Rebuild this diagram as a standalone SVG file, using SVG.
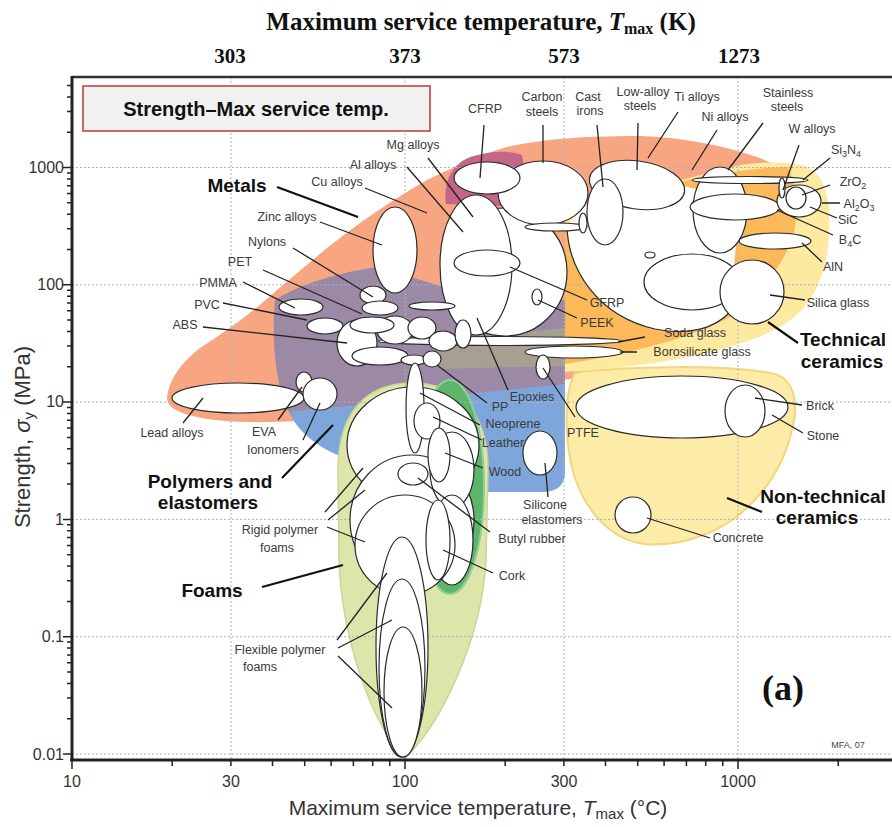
<svg xmlns="http://www.w3.org/2000/svg" width="892" height="827" viewBox="0 0 892 827">
<style>
.e{fill:#fff;stroke:#2a2a2a;stroke-width:1.2}
.l{stroke:#222;stroke-width:1.3;fill:none}
.L{stroke:#111;stroke-width:2.2;fill:none}
.s{font-family:"Liberation Sans",Arial,sans-serif;font-size:12.5px;fill:#3a3a3a;text-anchor:middle}
.b{font-family:"Liberation Sans",Arial,sans-serif;font-size:19px;font-weight:bold;fill:#111;text-anchor:middle}
.g{stroke:#a9b3be;stroke-width:1;stroke-dasharray:2 2;fill:none}
.ax{font-family:"Liberation Sans",Arial,sans-serif;font-size:16px;fill:#333}
.tk{font-family:"Liberation Serif","Times New Roman",serif;font-weight:bold;fill:#111;text-anchor:middle}
</style>
<rect width="892" height="827" fill="#fff"/>

<g id="regions">
<path id="metals-env" fill="#F8A682" d="M167,398 C170,375 185,360 200,348 C222,334 252,313 277,290 L327,248 C360,222 392,200 427,180 C458,165 482,154 507,147 C540,140 575,136 640,136 C680,137 722,145 757,157 C776,164 790,172 792,182 L700,262 L578,378 L420,400 L300,421 C230,425 167,419 167,398 Z"/>
<path id="polymers-env" fill="#9B89A5" d="M289,412 C276,388 271,340 275,300 C300,284 340,272 378,267 L470,295 L565,300 L565,386 Z"/>
<path id="glass-overlap" fill="#A5A091" d="M432,342 L565,328 L565,366 L440,369 C434,362 432,352 432,342 Z"/>
<path id="elastomers-env" fill="#7EA6DA" d="M289,412 L565,384 L565,472 C565,486 556,492 542,492 L470,492 L462,470 L345,458 C318,448 298,432 289,412 Z"/>
<path id="composites-env" fill="#C4668A" d="M446,204 C443,185 450,165 470,157 C490,151 510,150 522,155 L526,178 L500,206 Z"/>
<path id="techceram-outer" fill="#FDE9A0" d="M565,372 C660,366 745,350 788,322 C815,303 827,272 829,235 C831,200 826,175 805,166 C790,161 760,162 740,165 L565,210 Z"/>
<path id="techceram-inner" fill="#FBB95A" d="M565,226 C630,190 720,168 788,167 C797,186 798,212 794,232 C788,256 770,281 748,305 C715,332 640,352 565,364 Z"/>
<path id="nontech-env" fill="#FDEBA8" stroke="#F3D57C" stroke-width="2" d="M575,373 C620,366 730,364 775,374 C795,380 798,405 793,425 C785,465 765,495 735,518 C705,540 670,546 645,544 C610,540 585,510 574,475 C565,445 563,395 575,373 Z"/>
<path id="foams-env" fill="#DDE6AA" stroke="#C9D693" stroke-width="1.5" d="M338,470 C338,410 368,384 410,383 C458,383 488,410 488,470 L486,560 C482,640 440,725 405,758 C372,725 342,640 339,560 Z"/>
<ellipse id="natural-env" cx="450" cy="487" rx="34" ry="107" fill="#5DB46B" stroke="#8FCF95" stroke-width="2"/>
</g>

<g id="grid" class="g">
<path d="M231,77V760 M405,77V760 M564,77V760 M738,77V760"/>
<path d="M72,167.5H892 M72,284.8H892 M72,402.1H892 M72,519.4H892 M72,636.7H892 M72,754H892"/>
</g>

<g id="metal-nodes">
<ellipse id="lead" class="e" cx="238" cy="398" rx="66" ry="15"/>
<ellipse id="zinc" class="e" cx="395" cy="250" rx="22" ry="43"/>
<path id="ti-blob" fill="#fff" d="M567,226 C568,270 598,316 655,329 C690,336 715,328 730,312 L740,200 L640,175 L590,200 Z"/>
<path class="e" d="M567,226 C568,270 598,316 655,329 C690,336 715,328 730,312" style="fill:none"/>
<ellipse id="cu-big" class="e" cx="505" cy="272" rx="62" ry="64"/>
<ellipse id="carbon-steels" class="e" cx="543" cy="193" rx="45" ry="32"/>
<ellipse id="mg-al" class="e" cx="476" cy="265" rx="36" ry="70"/>
<ellipse id="cfrp" class="e" cx="487" cy="178" rx="33" ry="16"/>
<ellipse id="gfrp" class="e" cx="487" cy="263" rx="33" ry="13"/>
<ellipse id="peek" class="e" cx="537" cy="297" rx="5" ry="8"/>
<ellipse class="e" cx="556" cy="227" rx="31" ry="4"/>
<ellipse id="low-alloy" class="e" cx="637" cy="185" rx="48" ry="24" transform="rotate(8 637 185)"/>
<ellipse id="cast-irons" class="e" cx="605" cy="212" rx="18" ry="33"/>
<ellipse class="e" cx="583" cy="223" rx="4" ry="10"/>
<ellipse class="e" cx="650" cy="255" rx="5" ry="3"/>
<ellipse class="e" cx="692" cy="282" rx="48" ry="28"/>
<ellipse id="ni" class="e" cx="720" cy="210" rx="27" ry="43"/>
<ellipse id="sic-b4c" class="e" cx="735" cy="207" rx="45" ry="13"/>
<ellipse id="stainless" class="e" cx="750" cy="180" rx="58" ry="3.5"/>
<ellipse id="al2o3" class="e" cx="799" cy="201" rx="22" ry="16"/>
<ellipse id="zro2" class="e" cx="796" cy="198" rx="10" ry="11"/>
<ellipse id="w-alloys" class="e" cx="782" cy="188" rx="3" ry="10"/>
<ellipse id="aln" class="e" cx="775" cy="241" rx="36" ry="8"/>
<circle id="silica" class="e" cx="752" cy="292" r="32"/>
</g>

<g id="polymer-nodes">
<ellipse id="soda" class="e" cx="500" cy="341" rx="122" ry="4.5"/>
<ellipse id="pmma" class="e" cx="301" cy="307" rx="22" ry="8"/>
<ellipse id="pvc" class="e" cx="325" cy="326" rx="18" ry="8"/>
<ellipse class="e" cx="357" cy="343" rx="20" ry="23"/>
<ellipse class="e" cx="395" cy="330" rx="18" ry="14"/>
<ellipse class="e" cx="422" cy="328" rx="14" ry="11"/>
<ellipse class="e" cx="443" cy="341" rx="14" ry="10"/>
<ellipse class="e" cx="372" cy="325" rx="22" ry="8"/>
<ellipse id="nylon" class="e" cx="373" cy="295" rx="13" ry="9"/>
<ellipse id="pet" class="e" cx="380" cy="308" rx="18" ry="7"/>
<ellipse class="e" cx="432" cy="306" rx="23" ry="4"/>
<ellipse id="epoxy" class="e" cx="463" cy="334" rx="8" ry="14"/>
<ellipse class="e" cx="380" cy="356" rx="28" ry="9"/>
<ellipse class="e" cx="414" cy="360" rx="13" ry="5"/>
<ellipse id="pp" class="e" cx="432" cy="359" rx="9" ry="8"/>
<ellipse id="boro" class="e" cx="574" cy="352" rx="49" ry="6"/>
<ellipse id="ptfe" class="e" cx="543" cy="367" rx="7" ry="12"/>
<ellipse id="eva" class="e" cx="304" cy="382" rx="8" ry="10"/>
<ellipse id="ionomer" class="e" cx="320" cy="394" rx="17" ry="16"/>
<ellipse id="silicone" class="e" cx="540" cy="453" rx="17" ry="22"/>
</g>

<g id="foam-nodes">
<ellipse class="e" cx="413" cy="445" rx="66" ry="58"/>
<ellipse class="e" cx="412" cy="520" rx="62" ry="65"/>
<ellipse class="e" cx="452" cy="470" rx="22" ry="38"/>
<ellipse class="e" cx="452" cy="540" rx="21" ry="45"/>
<ellipse id="rigid" class="e" cx="405" cy="545" rx="50" ry="50"/>
<ellipse class="e" cx="402" cy="647" rx="26" ry="110"/>
<ellipse class="e" cx="402" cy="668" rx="23" ry="89"/>
<ellipse id="flexible" class="e" cx="403" cy="692" rx="19" ry="65"/>
<ellipse class="e" cx="415" cy="408" rx="9" ry="45"/>
<ellipse id="neoprene" class="e" cx="427" cy="421" rx="13" ry="18"/>
<ellipse id="wood" class="e" cx="439" cy="455" rx="11" ry="27"/>
<ellipse id="butyl" class="e" cx="413" cy="474" rx="15" ry="11"/>
<ellipse id="cork" class="e" cx="438" cy="540" rx="12" ry="40"/>
</g>

<g id="ceramic-nodes">
<ellipse class="e" cx="682" cy="407" rx="106" ry="31"/>
<ellipse id="brick" class="e" cx="745" cy="411" rx="20" ry="26"/>
<circle id="concrete" class="e" cx="633" cy="515" r="18"/>
</g>

<g id="connectors">
<path class="l" d="M428,158L473,217 M407,167L463,232 M365,188L427,213 M320,222L382,245 M293,248L373,297 M263,270L362,314 M243,282L295,308 M223,303L307,320 M203,327L347,343 M183,423L203,398 M278,420L302,387 M303,440L320,403 M325,512L363,468 M328,520L365,490 M327,527L365,542 M337,640L387,573 M338,648L392,620 M338,656L392,708"/>
<path class="l" d="M484,125L480,178 M543,125L543,163 M597,125L603,187 M638,123L637,170 M678,112L648,158 M717,130L692,170 M763,123L728,170 M799,145L783,190 M830,158L803,180 M830,185L802,195 M840,203L822,203 M837,218L810,207 M833,235L777,210 M822,262L802,243 M805,300L770,295 M587,300L510,267 M577,318L538,300 M645,337L618,342 M637,352L620,352"/>
<path class="l" d="M508,390L477,318 M487,403L437,365 M480,425L420,393 M482,440L433,417 M483,468L445,453 M548,497L545,463 M575,417L543,368 M490,532L418,478 M493,573L443,550 M802,405L755,398 M803,433L772,415 M710,538L647,518"/>
<path class="L" d="M277,187L358,217 M282,478L333,425 M262,587L343,565 M798,343L768,322 M762,512L727,498"/>
</g>

<g id="labels">
<text class="s" x="413" y="149">Mg alloys</text>
<text class="s" x="373" y="169">Al alloys</text>
<text class="s" x="337" y="186">Cu alloys</text>
<text class="s" x="287" y="221">Zinc alloys</text>
<text class="s" x="267" y="246">Nylons</text>
<text class="s" x="240" y="266">PET</text>
<text class="s" x="218" y="287">PMMA</text>
<text class="s" x="207" y="309">PVC</text>
<text class="s" x="185" y="329">ABS</text>
<text class="s" x="172" y="437">Lead alloys</text>
<text class="s" x="264" y="436">EVA</text>
<text class="s" x="273" y="454">Ionomers</text>
<text class="s" x="280" y="534">Rigid polymer</text>
<text class="s" x="277" y="552">foams</text>
<text class="s" x="280" y="654">Flexible polymer</text>
<text class="s" x="260" y="671">foams</text>
<text class="s" x="485" y="113">CFRP</text>
<text class="s" x="542" y="101">Carbon</text>
<text class="s" x="542" y="116">steels</text>
<text class="s" x="588" y="101">Cast</text>
<text class="s" x="590" y="115">irons</text>
<text class="s" x="643" y="96">Low-alloy</text>
<text class="s" x="640" y="110">steels</text>
<text class="s" x="697" y="101">Ti alloys</text>
<text class="s" x="725" y="121">Ni alloys</text>
<text class="s" x="788" y="97">Stainless</text>
<text class="s" x="787" y="111">steels</text>
<text class="s" x="812" y="133">W alloys</text>
<text class="s" x="846" y="154">Si<tspan font-size="9" dy="3">3</tspan><tspan dy="-3">N</tspan><tspan font-size="9" dy="3">4</tspan></text>
<text class="s" x="853" y="186">ZrO<tspan font-size="9" dy="3">2</tspan></text>
<text class="s" x="859" y="208">Al<tspan font-size="9" dy="3">2</tspan><tspan dy="-3">O</tspan><tspan font-size="9" dy="3">3</tspan></text>
<text class="s" x="848" y="224">SiC</text>
<text class="s" x="850" y="244">B<tspan font-size="9" dy="3">4</tspan><tspan dy="-3">C</tspan></text>
<text class="s" x="833" y="271">AlN</text>
<text class="s" x="838" y="307">Silica glass</text>
<text class="s" x="607" y="307">GFRP</text>
<text class="s" x="597" y="327">PEEK</text>
<text class="s" x="695" y="337">Soda glass</text>
<text class="s" x="702" y="356">Borosilicate glass</text>
<text class="s" x="532" y="401">Epoxies</text>
<text class="s" x="500" y="411">PP</text>
<text class="s" x="513" y="428">Neoprene</text>
<text class="s" x="503" y="447">Leather</text>
<text class="s" x="505" y="476">Wood</text>
<text class="s" x="583" y="437">PTFE</text>
<text class="s" x="545" y="509">Silicone</text>
<text class="s" x="552" y="524">elastomers</text>
<text class="s" x="532" y="543">Butyl rubber</text>
<text class="s" x="512" y="580">Cork</text>
<text class="s" x="820" y="410">Brick</text>
<text class="s" x="823" y="440">Stone</text>
<text class="s" x="738" y="542">Concrete</text>
<text class="b" x="237" y="192">Metals</text>
<text class="b" x="210" y="488">Polymers and</text>
<text class="b" x="208" y="509">elastomers</text>
<text class="b" x="212" y="597">Foams</text>
<text class="b" x="843" y="346" font-size="18">Technical</text>
<text class="b" x="842" y="368" font-size="18">ceramics</text>
<text class="b" x="823" y="503">Non-technical</text>
<text class="b" x="817" y="524">ceramics</text>
</g>

<g id="axes">
<path d="M72,77H892" stroke="#333" stroke-width="2.5"/>
<path d="M72,76V761 M70,760H892" stroke="#222" stroke-width="3"/>
<path stroke="#222" stroke-width="1.5" d="M63,754H72 M63,636.7H72 M63,519.4H72 M63,402.1H72 M63,284.8H72 M63,167.5H72 M67,718.7H72 M67,698H72 M67,683.4H72 M67,672H72 M67,662.7H72 M67,654.9H72 M67,648.1H72 M67,642.1H72 M67,601.4H72 M67,580.7H72 M67,566.1H72 M67,554.7H72 M67,545.4H72 M67,537.6H72 M67,530.8H72 M67,524.8H72 M67,484.1H72 M67,463.4H72 M67,448.8H72 M67,437.4H72 M67,428.1H72 M67,420.3H72 M67,413.5H72 M67,407.5H72 M67,366.8H72 M67,346.1H72 M67,331.5H72 M67,320.1H72 M67,310.8H72 M67,303H72 M67,296.2H72 M67,290.2H72 M67,249.5H72 M67,228.8H72 M67,214.2H72 M67,202.8H72 M67,193.5H72 M67,185.7H72 M67,178.9H72 M67,172.9H72 M67,132.2H72 M67,111.5H72 M67,96.9H72 M67,85.5H72"/>
<path stroke="#222" stroke-width="1.5" d="M72,760V769 M405,760V769 M738,760V769 M172.2,760V766 M230.9,760V766 M272.5,760V766 M304.7,760V766 M331.1,760V766 M353.4,760V766 M372.7,760V766 M389.8,760V766 M505.2,760V766 M563.9,760V766 M605.5,760V766 M637.7,760V766 M664.1,760V766 M686.4,760V766 M705.7,760V766 M722.8,760V766 M838.2,760V766"/>
<g class="ax" text-anchor="end">
<text x="64" y="173">1000</text>
<text x="64" y="290">100</text>
<text x="64" y="407">10</text>
<text x="64" y="525">1</text>
<text x="64" y="642">0.1</text>
<text x="64" y="760">0.01</text>
</g>
<g class="ax" text-anchor="middle">
<text x="72" y="787">10</text>
<text x="231" y="787">30</text>
<text x="405" y="787">100</text>
<text x="564" y="787">300</text>
<text x="738" y="787">1000</text>
</g>
<text x="478" y="815" text-anchor="middle" font-family="Liberation Sans,Arial,sans-serif" font-size="21" fill="#333">Maximum service temperature, <tspan font-style="italic">T</tspan><tspan font-size="15" dy="4">max</tspan><tspan dy="-4"> (°C)</tspan></text>
<text transform="translate(30,437) rotate(-90)" text-anchor="middle" font-family="Liberation Sans,Arial,sans-serif" font-size="22" fill="#333">Strength, <tspan font-style="italic">σ</tspan><tspan font-size="15" dy="4">y</tspan><tspan dy="-4">  (MPa)</tspan></text>
<text class="tk" x="481" y="30" font-size="25">Maximum service temperature, <tspan font-style="italic">T</tspan><tspan font-size="16" dy="4">max</tspan><tspan dy="-4"> (K)</tspan></text>
<text class="tk" x="230" y="63" font-size="21">303</text>
<text class="tk" x="405" y="63" font-size="21">373</text>
<text class="tk" x="564" y="63" font-size="21">573</text>
<text class="tk" x="739" y="63" font-size="21">1273</text>
</g>

<g id="title">
<rect x="83" y="86" width="347" height="45" fill="#f1f1f1" stroke="#c0392b" stroke-width="1.5"/>
<text x="256" y="116" text-anchor="middle" font-family="Liberation Sans,Arial,sans-serif" font-size="20" font-weight="bold" fill="#111">Strength–Max service temp.</text>
</g>
<text x="848" y="748" text-anchor="middle" font-family="Liberation Sans,Arial,sans-serif" font-size="9" fill="#444">MFA, 07</text>
<text class="tk" x="783" y="700" font-size="36">(a)</text>
</svg>
